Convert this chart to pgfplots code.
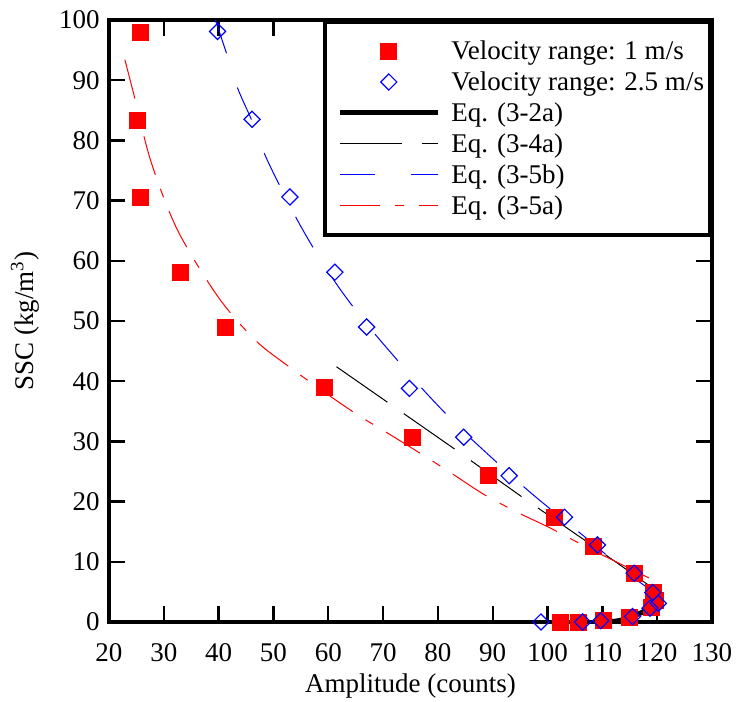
\documentclass[12pt,border=0pt]{standalone}
\usepackage{fontspec}
\setmainfont{Liberation Serif}
\usepackage{pgfplots}
\pgfplotsset{compat=1.18}
\pgfplotsset{
  markleg/.style={legend image code/.code={\path (0pt,0pt) (52pt,0pt); \draw[##1] plot coordinates {(27.5pt,0pt)};}},
  lineleg/.style={legend image code/.code={\path (0pt,0pt); \draw[##1] (3pt,0pt) -- (52pt,0pt);}},
}
\begin{document}
\fontsize{13.5}{16}\selectfont
\begin{tikzpicture}[font=\fontsize{13.5}{16}\selectfont]
\begin{axis}[
  scale only axis, width=301.5pt, height=301pt,
  xmin=20, xmax=130, ymin=0, ymax=100,
  xtick={20,30,...,130}, ytick={0,10,...,100},
  axis line style={line width=1.7pt},
  every tick/.style={black, line width=1.2pt},
  major tick length=8pt,
  tick align=inside,
  tick label style={font=\fontsize{13.5}{16}\selectfont},
  label style={font=\fontsize{13.5}{16}\selectfont},
  /pgf/number format/assume math mode=true,
  xticklabel style={yshift=-6pt},
  xlabel={Amplitude (counts)},
  ylabel={SSC (kg/m\textsuperscript{3})},
  xlabel style={at={(axis description cs:0.5,-0.106)}, anchor=center},
  ylabel style={at={(axis description cs:-0.139,0.5)}, anchor=center},
  legend style={at={(1,1)}, anchor=north east, draw=black, line width=2pt,
    font=\fontsize{13.5}{16}\selectfont,
    inner xsep=3pt, inner ysep=7pt, column sep=5.5pt, row sep=0.5pt,
    nodes={inner sep=0pt, text height=12pt, text depth=3pt}},
  legend cell align=left,
]
\addplot[only marks, mark=square*, mark size=4pt, red,
  mark options={fill=red, draw=red, line width=0.4pt}, markleg]
coordinates {(25.8,98.0)(25.1,83.4)(25.8,70.6)(33.1,58.1)(41.3,49.0)(59.3,38.9)(75.4,30.7)(89.2,24.4)(101.2,17.4)(108.3,12.6)(115.8,8.0)(119.3,4.9)(119.6,3.6)(118.9,2.4)(114.9,0.8)(110.2,0.3)(105.6,0)(102.3,0)};
\addlegendentry{Velocity range: 1 m/s}
\addplot[only marks, mark=square, mark size=2.85pt, blue,
  mark options={rotate=45, draw=blue, line width=0.6pt}, markleg]
coordinates {(39.8,98.1)(46.1,83.5)(53.0,70.6)(61.2,58.1)(67.0,49.0)(74.8,38.8)(84.7,30.7)(93.0,24.3)(103.1,17.4)(109.1,12.8)(115.8,8.1)(119.2,4.9)(120.2,3.1)(118.7,2.3)(115.5,0.9)(109.7,0.2)(106.4,0)(98.8,0)};
\addlegendentry{Velocity range: 2.5 m/s}
\addplot[black, line width=2.5pt, smooth, lineleg] coordinates {(110.5,0)(112.5,0.15)(114,0.45)(115.5,0.9)(117,1.5)(118.5,2.2)(120,3.1)};
\addlegendentry{Eq. (3-2a)}
\addplot[black, line width=0.5pt, dash pattern=on 31pt off 10pt, lineleg] coordinates {(61.5,42.4)(73.8,34.6)(83.1,28.7)(95.3,20.8)(108.5,12.5)(119.7,5.3)};
\addlegendentry{Eq. (3-4a)}
\addplot[blue, line width=0.5pt, smooth, dash pattern=on 17.5pt off 18pt, lineleg] coordinates {(39.4,100)(41.5,94.3)(43.5,88.6)(46.0,83.4)(48.5,77.5)(51.4,72.0)(54.7,66.2)(58.3,60.6)(62.3,55.1)(66.9,49.6)(72.4,43.7)(77.7,38.2)(83.8,32.4)(89.8,27.3)(96.0,22.2)(100.6,18.7)(108.2,13.1)(111.9,10.2)(115.5,7.5)(119,5.2)};
\addlegendentry{Eq. (3-5b)}
\addplot[red, line width=0.5pt, smooth, dash pattern=on 20pt off 7.5pt on 4.5pt off 7.5pt, lineleg] coordinates {(22.9,93.4)(24.4,88.1)(27.65,76.5)(32.5,65.1)(39.9,54.0)(46.7,46.8)(52.7,42.5)(58.8,38.5)(65.2,34.5)(71.5,31.0)(77.7,27.5)(83,24.4)(88.2,21.3)(94.3,18.3)(100.3,15.7)(107,12.5)(112.5,10)(119,7.1)};
\addlegendentry{Eq. (3-5a)}
\end{axis}
\pgfresetboundingbox
\path (current axis.south west) ++(-54.5pt,-40pt) rectangle ++(368pt,351pt);
\end{tikzpicture}
\end{document}
